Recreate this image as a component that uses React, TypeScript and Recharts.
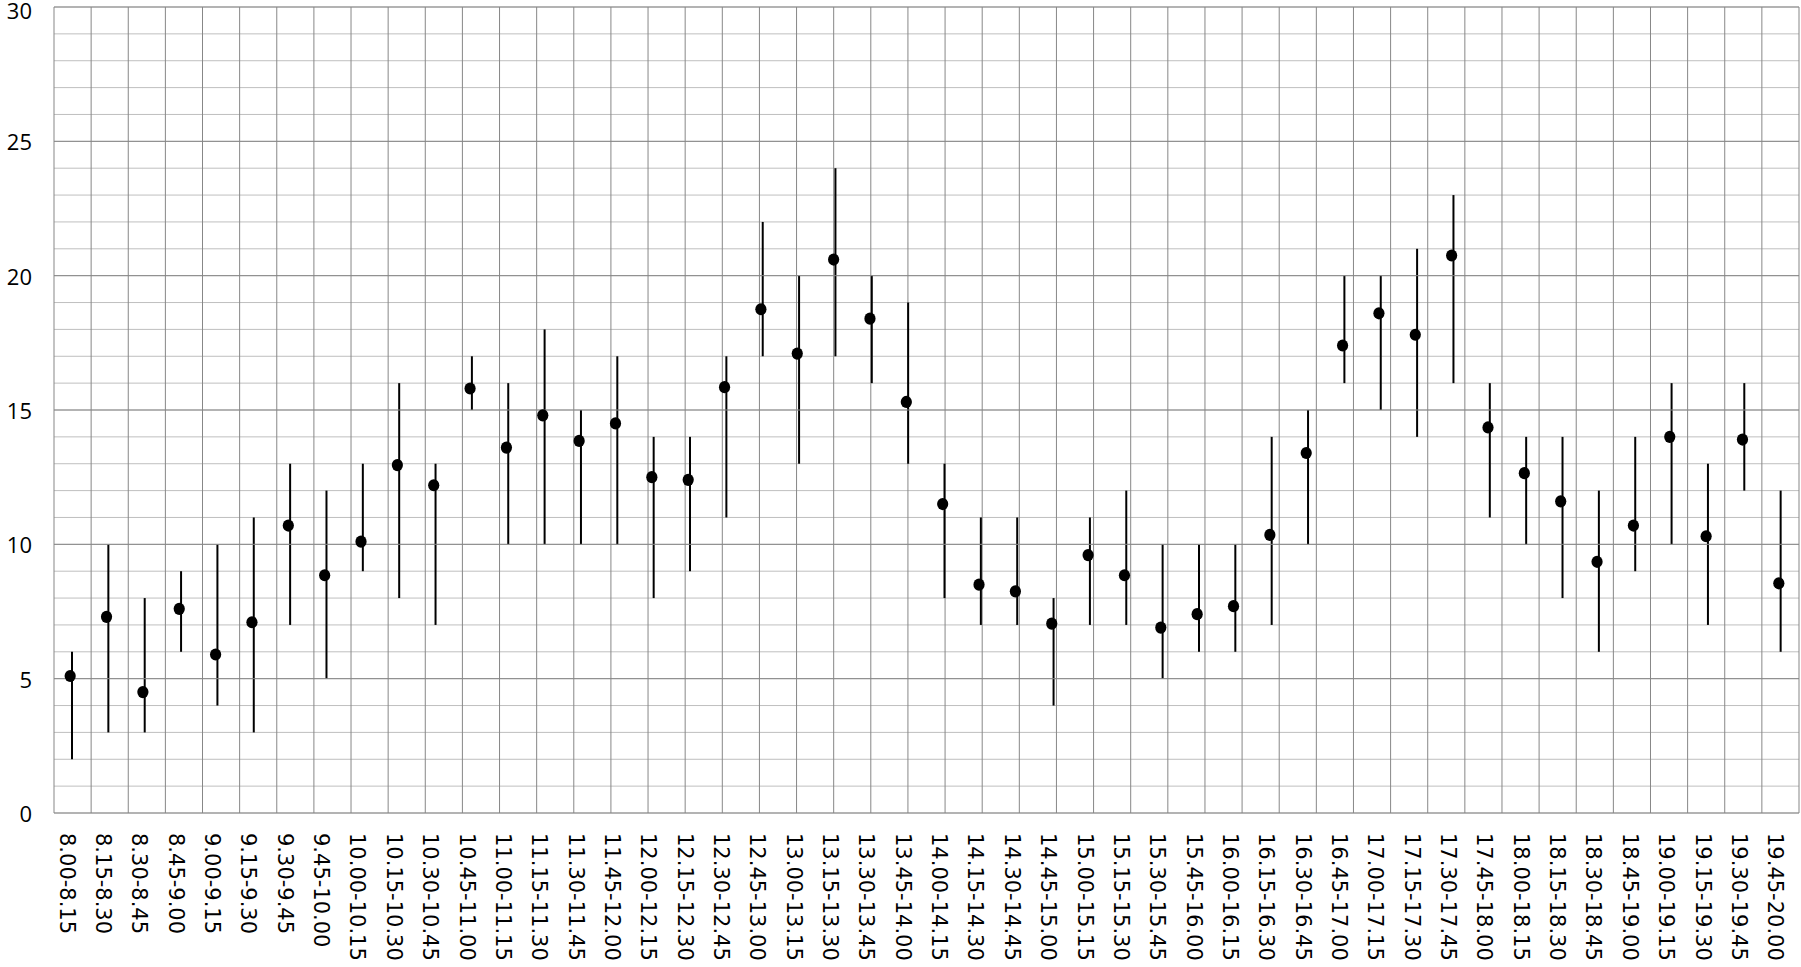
import React from "react";
import {
  ComposedChart,
  Bar,
  Line,
  XAxis,
  YAxis,
  CartesianGrid,
  ReferenceLine,
} from "recharts";

const categories = [
  "8.00-8.15", "8.15-8.30", "8.30-8.45", "8.45-9.00", "9.00-9.15", "9.15-9.30",
  "9.30-9.45", "9.45-10.00", "10.00-10.15", "10.15-10.30", "10.30-10.45", "10.45-11.00",
  "11.00-11.15", "11.15-11.30", "11.30-11.45", "11.45-12.00", "12.00-12.15", "12.15-12.30",
  "12.30-12.45", "12.45-13.00", "13.00-13.15", "13.15-13.30", "13.30-13.45", "13.45-14.00",
  "14.00-14.15", "14.15-14.30", "14.30-14.45", "14.45-15.00", "15.00-15.15", "15.15-15.30",
  "15.30-15.45", "15.45-16.00", "16.00-16.15", "16.15-16.30", "16.30-16.45", "16.45-17.00",
  "17.00-17.15", "17.15-17.30", "17.30-17.45", "17.45-18.00", "18.00-18.15", "18.15-18.30",
  "18.30-18.45", "18.45-19.00", "19.00-19.15", "19.15-19.30", "19.30-19.45", "19.45-20.00",
];

const meanValues = [
  5.1, 7.3, 4.5, 7.6, 5.9, 7.1,
  10.7, 8.85, 10.1, 12.95, 12.2, 15.8,
  13.6, 14.8, 13.85, 14.5, 12.5, 12.4,
  15.85, 18.75, 17.1, 20.6, 18.4, 15.3,
  11.5, 8.5, 8.25, 7.05, 9.6, 8.85,
  6.9, 7.4, 7.7, 10.35, 13.4, 17.4,
  18.6, 17.8, 20.75, 14.35, 12.65, 11.6,
  9.35, 10.7, 14.0, 10.3, 13.9, 8.55,
];

const lowValues = [
  2, 3, 3, 6, 4, 3,
  7, 5, 9, 8, 7, 15,
  10, 10, 10, 10, 8, 9,
  11, 17, 13, 17, 16, 13,
  8, 7, 7, 4, 7, 7,
  5, 6, 6, 7, 10, 16,
  15, 14, 16, 11, 10, 8,
  6, 9, 10, 7, 12, 6,
];

const highValues = [
  6, 10, 8, 9, 10, 11,
  13, 12, 13, 16, 13, 17,
  16, 18, 15, 17, 14, 14,
  17, 22, 20, 24, 20, 19,
  13, 11, 11, 8, 11, 12,
  10, 10, 10, 14, 15, 20,
  20, 21, 23, 16, 14, 14,
  12, 14, 16, 13, 16, 12,
];

const yMajorTicks = [0, 5, 10, 15, 20, 25, 30];
const yMinorTicks = [
  0, 1, 2, 3, 4, 5, 6, 7, 8, 9, 10, 11, 12, 13, 14, 15,
  16, 17, 18, 19, 20, 21, 22, 23, 24, 25, 26, 27, 28, 29, 30,
];
const boundaryTicks = [...categories.map((_, i) => i), categories.length];

const data = categories.map((name, i) => ({
  name,
  mean: meanValues[i],
  range: [lowValues[i], highValues[i]],
}));

const DotShape = (props: any) => {
  const { cx, cy, index } = props;
  if (cx == null || cy == null) return <g key={`d-${index}`} />;
  return <ellipse key={`d-${index}`} cx={cx - 2} cy={cy} rx={5.6} ry={6.1} fill="#000" />;
};

const XTick = (props: any) => {
  const { x, y, payload } = props;
  return (
    <text
      transform={`translate(${x - 5},${y}) rotate(90)`}
      textAnchor="start"
      dy="0.36em"
      fontFamily="DejaVu Sans"
      fontSize={21}
      fill="#000"
    >
      {payload.value}
    </text>
  );
};

const YTick = (props: any) => {
  const { x, y, payload } = props;
  if (!yMajorTicks.includes(payload.value)) return <g />;
  const ty = Math.max(y + 1, 11);
  return (
    <text
      x={x}
      y={ty}
      dy="0.36em"
      textAnchor="end"
      fontFamily="Open Sans"
      fontSize={22}
      fill="#000"
    >
      {payload.value}
    </text>
  );
};

export default function App() {
  return (
    <div style={{ position: "absolute", left: 0, top: 0, width: 1801, height: 967, background: "#fff" }}>
      <ComposedChart
        width={1801}
        height={967}
        data={data}
        margin={{ top: 7, right: 2, left: 0, bottom: 0 }}
      >
        <XAxis
          dataKey="name"
          type="category"
          interval={0}
          tick={<XTick />}
          tickLine={false}
          tickSize={0}
          tickMargin={20}
          axisLine={false}
          height={154}
        />
        <XAxis
          xAxisId="grid"
          type="number"
          domain={[0, categories.length]}
          ticks={boundaryTicks}
          hide
        />
        <YAxis
          type="number"
          domain={[0, 30]}
          ticks={yMinorTicks}
          interval={0}
          width={54}
          tickLine={false}
          tickSize={0}
          tickMargin={22}
          axisLine={false}
          tick={<YTick />}
        />
        <CartesianGrid vertical={false} stroke="#bfbfbf" strokeWidth={1} />
        {yMajorTicks.map((v) => (
          <ReferenceLine key={`maj-${v}`} y={v} stroke="#878787" strokeWidth={1} ifOverflow="extendDomain" />
        ))}
        <CartesianGrid xAxisId="grid" horizontal={false} stroke="#878787" strokeWidth={1} />
        <Bar dataKey="range" barSize={2} fill="#000" isAnimationActive={false} />
        <Line
          dataKey="mean"
          stroke="none"
          dot={DotShape}
          activeDot={false}
          isAnimationActive={false}
        />
      </ComposedChart>
    </div>
  );
}
